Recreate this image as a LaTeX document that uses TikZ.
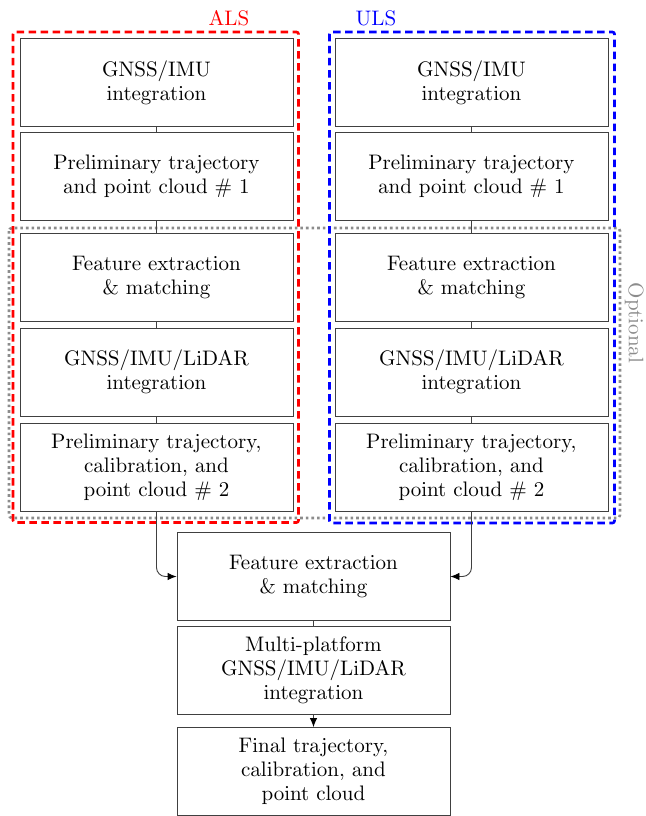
\documentclass[tikz,border=0pt]{standalone}
\usetikzlibrary{arrows.meta}
\font\bigrm=cmr10 at 21pt
\newcommand\boxfont{\bigrm\baselineskip=24pt\relax}
\begin{document}
\begin{tikzpicture}[x=1pt,y=-1pt,
  txt/.style={font=\boxfont},
  box/.style={txt, draw=black!75, line width=0.9pt, minimum width=273pt, minimum height=88pt, align=center, inner sep=0pt},
  link/.style={draw=black!75, line width=0.9pt},
  tip/.style={-{Latex[length=9pt,width=7.5pt,black]}},
  arr/.style={link, tip, rounded corners=9pt},
  alsframe/.style={draw=red, line width=2.6pt, dash pattern=on 7.5pt off 4.5pt, rounded corners=2pt},
  ulsframe/.style={draw=blue, line width=2.6pt, dash pattern=on 7.5pt off 4.5pt, rounded corners=2pt},
  optframe/.style={draw=black!45, line width=2.6pt, dash pattern=on 2.6pt off 3pt, rounded corners=3pt}]
\useasboundingbox (0,0) rectangle (645,816);

% left column (ALS)
\node[box] (l1) at (156.5,82.5) {GNSS/IMU\\integration};
\node[box] (l2) at (156.5,176) {Preliminary trajectory\\and point cloud \# 1};
\node[box] (l3) at (156.5,277) {Feature extraction\\\& matching};
\node[box] (l4) at (156.5,372) {GNSS/IMU/LiDAR\\integration};
\node[box] (l5) at (156.5,467) {Preliminary trajectory,\\calibration, and\\point cloud \# 2};

% right column (ULS)
\node[box] (r1) at (471.5,82.5) {GNSS/IMU\\integration};
\node[box] (r2) at (471.5,176) {Preliminary trajectory\\and point cloud \# 1};
\node[box] (r3) at (471.5,277) {Feature extraction\\\& matching};
\node[box] (r4) at (471.5,372) {GNSS/IMU/LiDAR\\integration};
\node[box] (r5) at (471.5,467) {Preliminary trajectory,\\calibration, and\\point cloud \# 2};

% bottom column
\node[box] (b1) at (313.5,576.5) {Feature extraction\\\& matching};
\node[box] (b2) at (313.5,670.5) {Multi-platform\\GNSS/IMU/LiDAR\\integration};
\node[box] (b3) at (313.5,771.5) {Final trajectory,\\calibration, and\\point cloud};

% frames
\draw[optframe] (9,228) rectangle (620,518);
\draw[alsframe] (13,32) rectangle (298.5,522.5);
\draw[ulsframe] (329.5,32) rectangle (614.5,523);

\node[txt, text=red] (als) at (229,18) {ALS};
\node[txt, text=blue] (uls) at (376,18) {ULS};
\node[txt, text=black!45, rotate=-90] (opt) at (634,323) {Optional};

% connectors
\draw[link] (l1) -- (l2);
\draw[link] (l2) -- (l3);
\draw[link] (l3) -- (l4);
\draw[link] (l4) -- (l5);
\draw[link] (r1) -- (r2);
\draw[link] (r2) -- (r3);
\draw[link] (r3) -- (r4);
\draw[link] (r4) -- (r5);
\draw[arr] (l5.south) |- (b1.west);
\draw[arr] (r5.south) |- (b1.east);
\draw[link] (b1) -- (b2);
\draw[link, tip] (b2) -- (b3);
\end{tikzpicture}
\end{document}
